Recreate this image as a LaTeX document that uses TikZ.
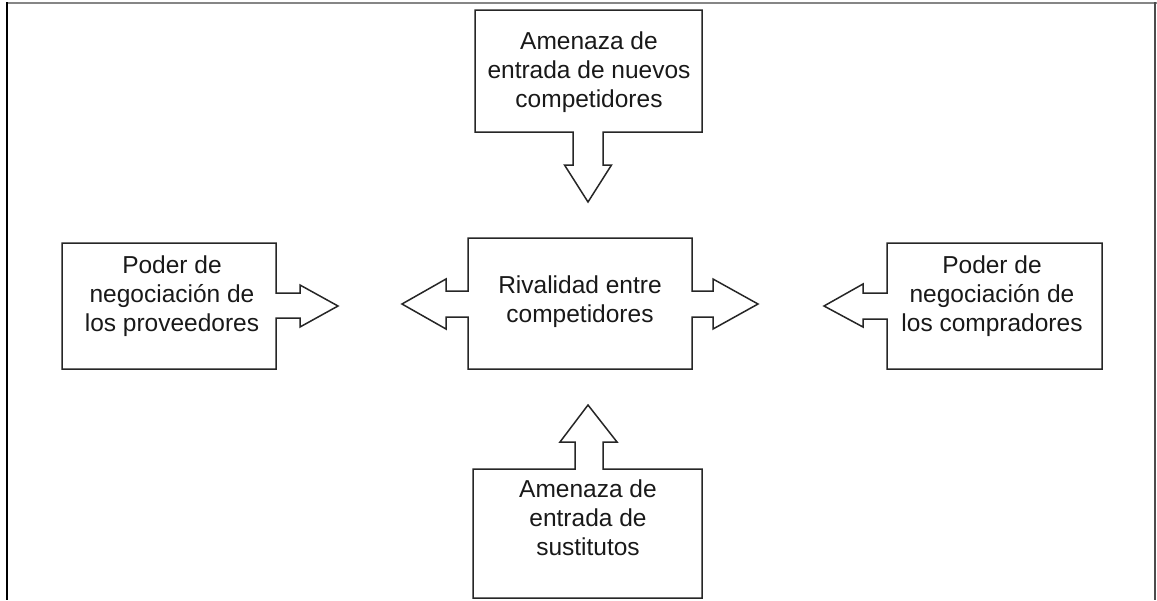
\documentclass[tikz,border=0pt]{standalone}
\usepackage{fontspec}
\setmainfont{Liberation Sans}
\begin{document}
\begin{tikzpicture}[x=1pt,y=-1pt,
  outline/.style={draw=black!85,line width=1.5pt,line join=miter,fill=white},
  label/.style={align=center,text=black!90,font=\fontsize{24.5}{29}\selectfont,inner sep=0pt}]
\useasboundingbox (0,0) rectangle (1157,600);
% frame
\draw[gray!95,line width=2pt] (7,2.5) -- (1157,2.5);
\draw[black,line width=1.5pt] (7,2) -- (7,600);
\draw[black!70,line width=1.5pt] (1155,2) -- (1155,600);
% top shape
\draw[outline] (475,10) -- (702,10) -- (702,132) -- (603,132) -- (603,165) -- (611.5,165)
  -- (588,202) -- (564.5,165) -- (573,165) -- (573,132) -- (475,132) -- cycle;
% left shape
\draw[outline] (62,243) -- (276,243) -- (276,293) -- (300,293) -- (300,285) -- (338,306)
  -- (300,327) -- (300,318) -- (276,318) -- (276,369) -- (62,369) -- cycle;
% centre shape
\draw[outline] (468,238) -- (692,238) -- (692,291) -- (713,291) -- (713,279) -- (758,304)
  -- (713,329) -- (713,317) -- (692,317) -- (692,369) -- (468,369) -- (468,317) -- (446,317)
  -- (446,329) -- (402,304) -- (446,279) -- (446,291) -- (468,291) -- cycle;
% right shape
\draw[outline] (1102,243) -- (887,243) -- (887,293) -- (863,293) -- (863,284) -- (824,306)
  -- (863,327) -- (863,319) -- (887,319) -- (887,369) -- (1102,369) -- cycle;
% bottom shape
\draw[outline] (473,598) -- (473,469) -- (575,469) -- (575,442) -- (560,442) -- (588,405)
  -- (617,442) -- (603,442) -- (603,469) -- (702,469) -- (702,598) -- cycle;
% texts
\node[label] (nuevos) at (589,72) {Amenaza de\\entrada de nuevos\\competidores};
\node[label] (prov) at (172,296) {Poder de\\negociación de\\los proveedores};
\node[label] (rival) at (580,302) {Rivalidad entre\\competidores};
\node[label] (comp) at (992,296) {Poder de\\negociación de\\los compradores};
\node[label] (sust) at (588,518) {Amenaza de\\entrada de\\sustitutos};
\end{tikzpicture}
\end{document}
